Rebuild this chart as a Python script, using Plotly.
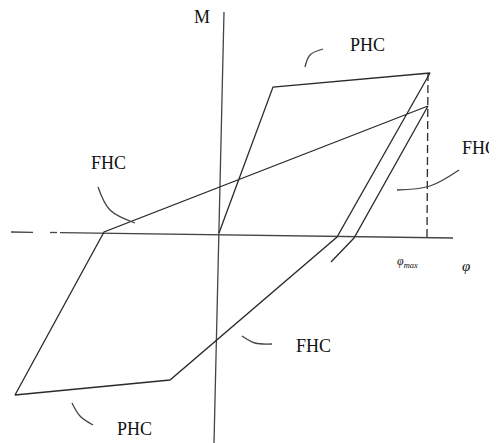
import plotly.graph_objects as go

# Hysteresis loop (phi, M) — origin at axis intersection
loop_phi = [0, 54, 211, 118, -49, -204, -115, 209, 135, 112]
loop_M = [0, 146, 160, -4, -147, -162, 1, 127, -5, -29]

# phi_max dashed guide
phimax_phi = [209, 208]
phimax_M = [160, -4]

# axes (sketched, slightly tilted)
haxis_phi = [-208, -186, None, -169, -162, None, -159, 234]
haxis_M = [1, 0.7, None, 0.5, 0.5, None, 0.4, -5]
vaxis_phi = [5, -5]
vaxis_M = [221, -210]

# leader arcs (start, mid, end)
arcs = {
    "phc_top": ([86, 91, 104], [166, 178, 184]),
    "fhc_left": ([-121, -109, -84], [46, 23, 10]),
    "fhc_right": ([178, 211, 240], [43, 47, 63]),
    "fhc_low": ([23, 36, 53], [-103, -110, -111]),
    "phc_low": ([-147, -139, -126], [-170, -183, -192]),
}

labels = [
    ("M", -17, 216),
    ("PHC", 148, 188),
    ("FHC", 241, 85),
    ("FHC", -111, 70),
    ("FHC", 94, -113),
    ("PHC", -85, -196),
]

LC = "#2b2b2b"
fig = go.Figure()
fig.add_trace(go.Scatter(x=haxis_phi, y=haxis_M, mode="lines",
                         line=dict(color="#444", width=1.3)))
fig.add_trace(go.Scatter(x=vaxis_phi, y=vaxis_M, mode="lines",
                         line=dict(color="#444", width=1.3)))
fig.add_trace(go.Scatter(x=loop_phi, y=loop_M, mode="lines",
                         line=dict(color=LC, width=1.3)))
fig.add_trace(go.Scatter(x=phimax_phi, y=phimax_M, mode="lines",
                         line=dict(color=LC, width=1.3, dash="8px,4px")))
for k, (ax, ay) in arcs.items():
    fig.add_trace(go.Scatter(x=ax, y=ay, mode="lines",
                             line=dict(color="#444", width=1.3, shape="spline")))

font = dict(family="Liberation Serif, DejaVu Serif, serif", size=18, color="#111")
for t, x, y in labels:
    xa = "left" if t == "FHC" and x > 200 else "center"
    fig.add_annotation(x=x, y=y, text=t, showarrow=False, font=font,
                       xanchor=xa, yanchor="middle")
fig.add_annotation(x=188, y=-29, text="<i>φ</i><sub><i>max</i></sub>", showarrow=False,
                   font=dict(family="Liberation Serif, serif", size=12, color="#111"))
fig.add_annotation(x=247, y=-33, text="<i>φ</i>", showarrow=False,
                   font=dict(family="Liberation Serif, serif", size=15, color="#111"))

# page body has an 8px margin; shift ranges so the origin lands at (219, 233)
fig.update_layout(
    width=497, height=443, margin=dict(l=0, r=0, t=0, b=0),
    paper_bgcolor="white", plot_bgcolor="white", showlegend=False,
    xaxis=dict(range=[-211, 286], visible=False, fixedrange=True),
    yaxis=dict(range=[-218, 225], visible=False, fixedrange=True),
)
fig.write_html("out.html")
